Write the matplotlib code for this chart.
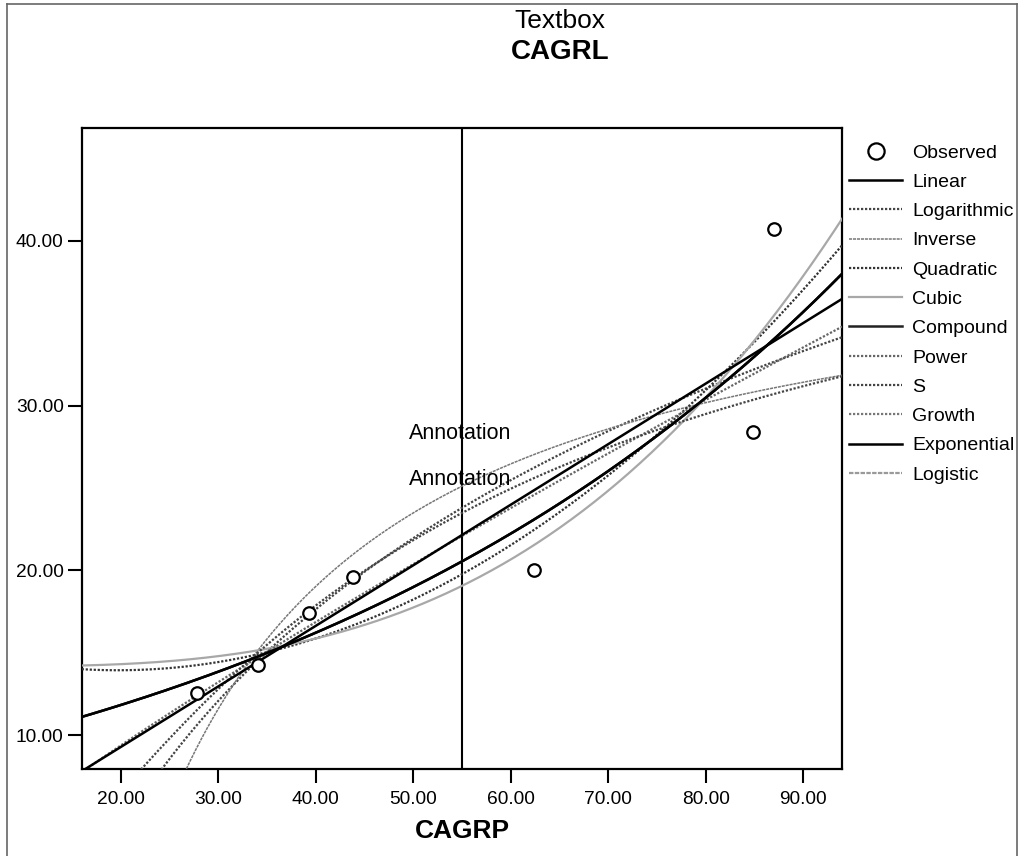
import numpy as np
import matplotlib
matplotlib.use("Agg")
import matplotlib.pyplot as plt
from matplotlib.ticker import FormatStrFormatter

plt.rcParams['font.family'] = ['Liberation Sans', 'DejaVu Sans']

# observed points
cagrp = np.array([27.78, 34.12, 39.34, 43.84, 62.37, 84.89, 87.04])
cagrl = np.array([12.55, 14.25, 17.41, 19.59, 20.02, 28.39, 40.71])

x_ticks = [20, 30, 40, 50, 60, 70, 80, 90]
y_ticks = [10, 20, 30, 40]
ref_line_x = 55.0
annotations = [(49.6, 28.3, 'Annotation'), (49.6, 25.5, 'Annotation')]

# curve estimation models (SPSS style), fitted to the observed data
xs = np.linspace(16, 94, 400)
ly = np.log(cagrl)

def fit_linear(x):
    return np.polyval(np.polyfit(cagrp, cagrl, 1), x)

def fit_log(x):
    return np.polyval(np.polyfit(np.log(cagrp), cagrl, 1), np.log(x))

def fit_inverse(x):
    return np.polyval(np.polyfit(1 / cagrp, cagrl, 1), 1 / x)

def fit_quad(x):
    return np.polyval(np.polyfit(cagrp, cagrl, 2), x)

def fit_cubic(x):
    # SPSS drops the linear term here (tolerance), so fit on 1, x^2, x^3
    A = np.column_stack([np.ones_like(cagrp), cagrp ** 2, cagrp ** 3])
    b = np.linalg.lstsq(A, cagrl, rcond=None)[0]
    return b[0] + b[1] * x ** 2 + b[2] * x ** 3

def fit_compound(x):
    return np.exp(np.polyval(np.polyfit(cagrp, ly, 1), x))

def fit_power(x):
    return np.exp(np.polyval(np.polyfit(np.log(cagrp), ly, 1), np.log(x)))

def fit_s(x):
    return np.exp(np.polyval(np.polyfit(1 / cagrp, ly, 1), 1 / x))

def fit_logistic(x):
    return 1 / np.exp(np.polyval(np.polyfit(cagrp, -ly, 1), x))

models = [
    ('Linear', fit_linear, dict(color='black', lw=1.8, ls='-'), 5),
    ('Logarithmic', fit_log, dict(color='#444444', lw=1.6, ls=(0, (1, 0.8))), 3),
    ('Inverse', fit_inverse, dict(color='#777777', lw=1.1, ls=(0, (2, 0.6))), 3),
    ('Quadratic', fit_quad, dict(color='#333333', lw=1.6, ls=(0, (1, 0.8))), 3),
    ('Cubic', fit_cubic, dict(color='#a8a8a8', lw=1.6, ls='-'), 3),
    ('Compound', fit_compound, dict(color='#222222', lw=1.8, ls='-'), 4),
    ('Power', fit_power, dict(color='#666666', lw=1.6, ls=(0, (1, 0.8))), 3),
    ('S', fit_s, dict(color='#444444', lw=1.6, ls=(0, (1, 0.8))), 3),
    ('Growth', fit_compound, dict(color='#777777', lw=1.6, ls=(0, (1, 0.8))), 2),
    ('Exponential', fit_compound, dict(color='black', lw=1.8, ls='-'), 5),
    ('Logistic', fit_logistic, dict(color='#999999', lw=1.6, ls=(0, (2, 0.6))), 2),
]

fig = plt.figure(figsize=(10.19, 8.56), dpi=100)
ax = fig.add_axes([81.7 / 1019, 1 - 769 / 856, (842.3 - 81.7) / 1019, (769 - 127.7) / 856])

obs, = ax.plot(cagrp, cagrl, 'o', ms=9, mfc='white', mec='black', mew=1.6,
               zorder=10, label='Observed')
handles = [obs]
for name, f, style, z in models:
    ln, = ax.plot(xs, f(xs), label=name, zorder=z, **style)
    handles.append(ln)

ax.axvline(ref_line_x, color='black', lw=1.5, zorder=1)
for ax_x, ax_y, txt in annotations:
    ax.text(ax_x, ax_y, txt, fontsize=15.5, ha='left', va='center', zorder=6)

ax.set_xlim(16, 94)
ax.set_ylim(7.94, 46.86)
ax.set_xticks(x_ticks)
ax.set_yticks(y_ticks)
ax.xaxis.set_major_formatter(FormatStrFormatter('%.2f'))
ax.yaxis.set_major_formatter(FormatStrFormatter('%.2f'))
ax.tick_params(axis='both', direction='out', length=10, width=1.5, labelsize=13.8)
ax.tick_params(axis='x', pad=6)
ax.tick_params(axis='y', pad=3)
for sp in ax.spines.values():
    sp.set_linewidth(1.6)

fig.legend(handles=handles, loc='upper left', bbox_to_anchor=(849 / 1019, 1 - 144 / 856),
           frameon=False, fontsize=14, handlelength=2.75, handletextpad=0.5,
           labelspacing=0.6, borderpad=0, borderaxespad=0, markerscale=1.3)

fig.text(560 / 1019, 1 - 21 / 856, 'Textbox', ha='center', va='center', fontsize=19)
fig.text(560 / 1019, 1 - 52 / 856, 'CAGRL', ha='center', va='center', fontsize=20,
         fontweight='bold')
fig.text(462 / 1019, 1 - 831 / 856, 'CAGRP', ha='center', va='center', fontsize=19,
         fontweight='bold')

# outer border of the chart frame
for xy in ([(6.5, 6.5), (856, 4)], [(6.5, 1016.7), (4, 4)], [(1016.7, 1016.7), (4, 856)]):
    fig.add_artist(plt.Line2D(np.array(xy[0]) / 1019, 1 - np.array(xy[1]) / 856,
                              color='#666666', lw=1.2))

fig.savefig('out.png', dpi=100)
